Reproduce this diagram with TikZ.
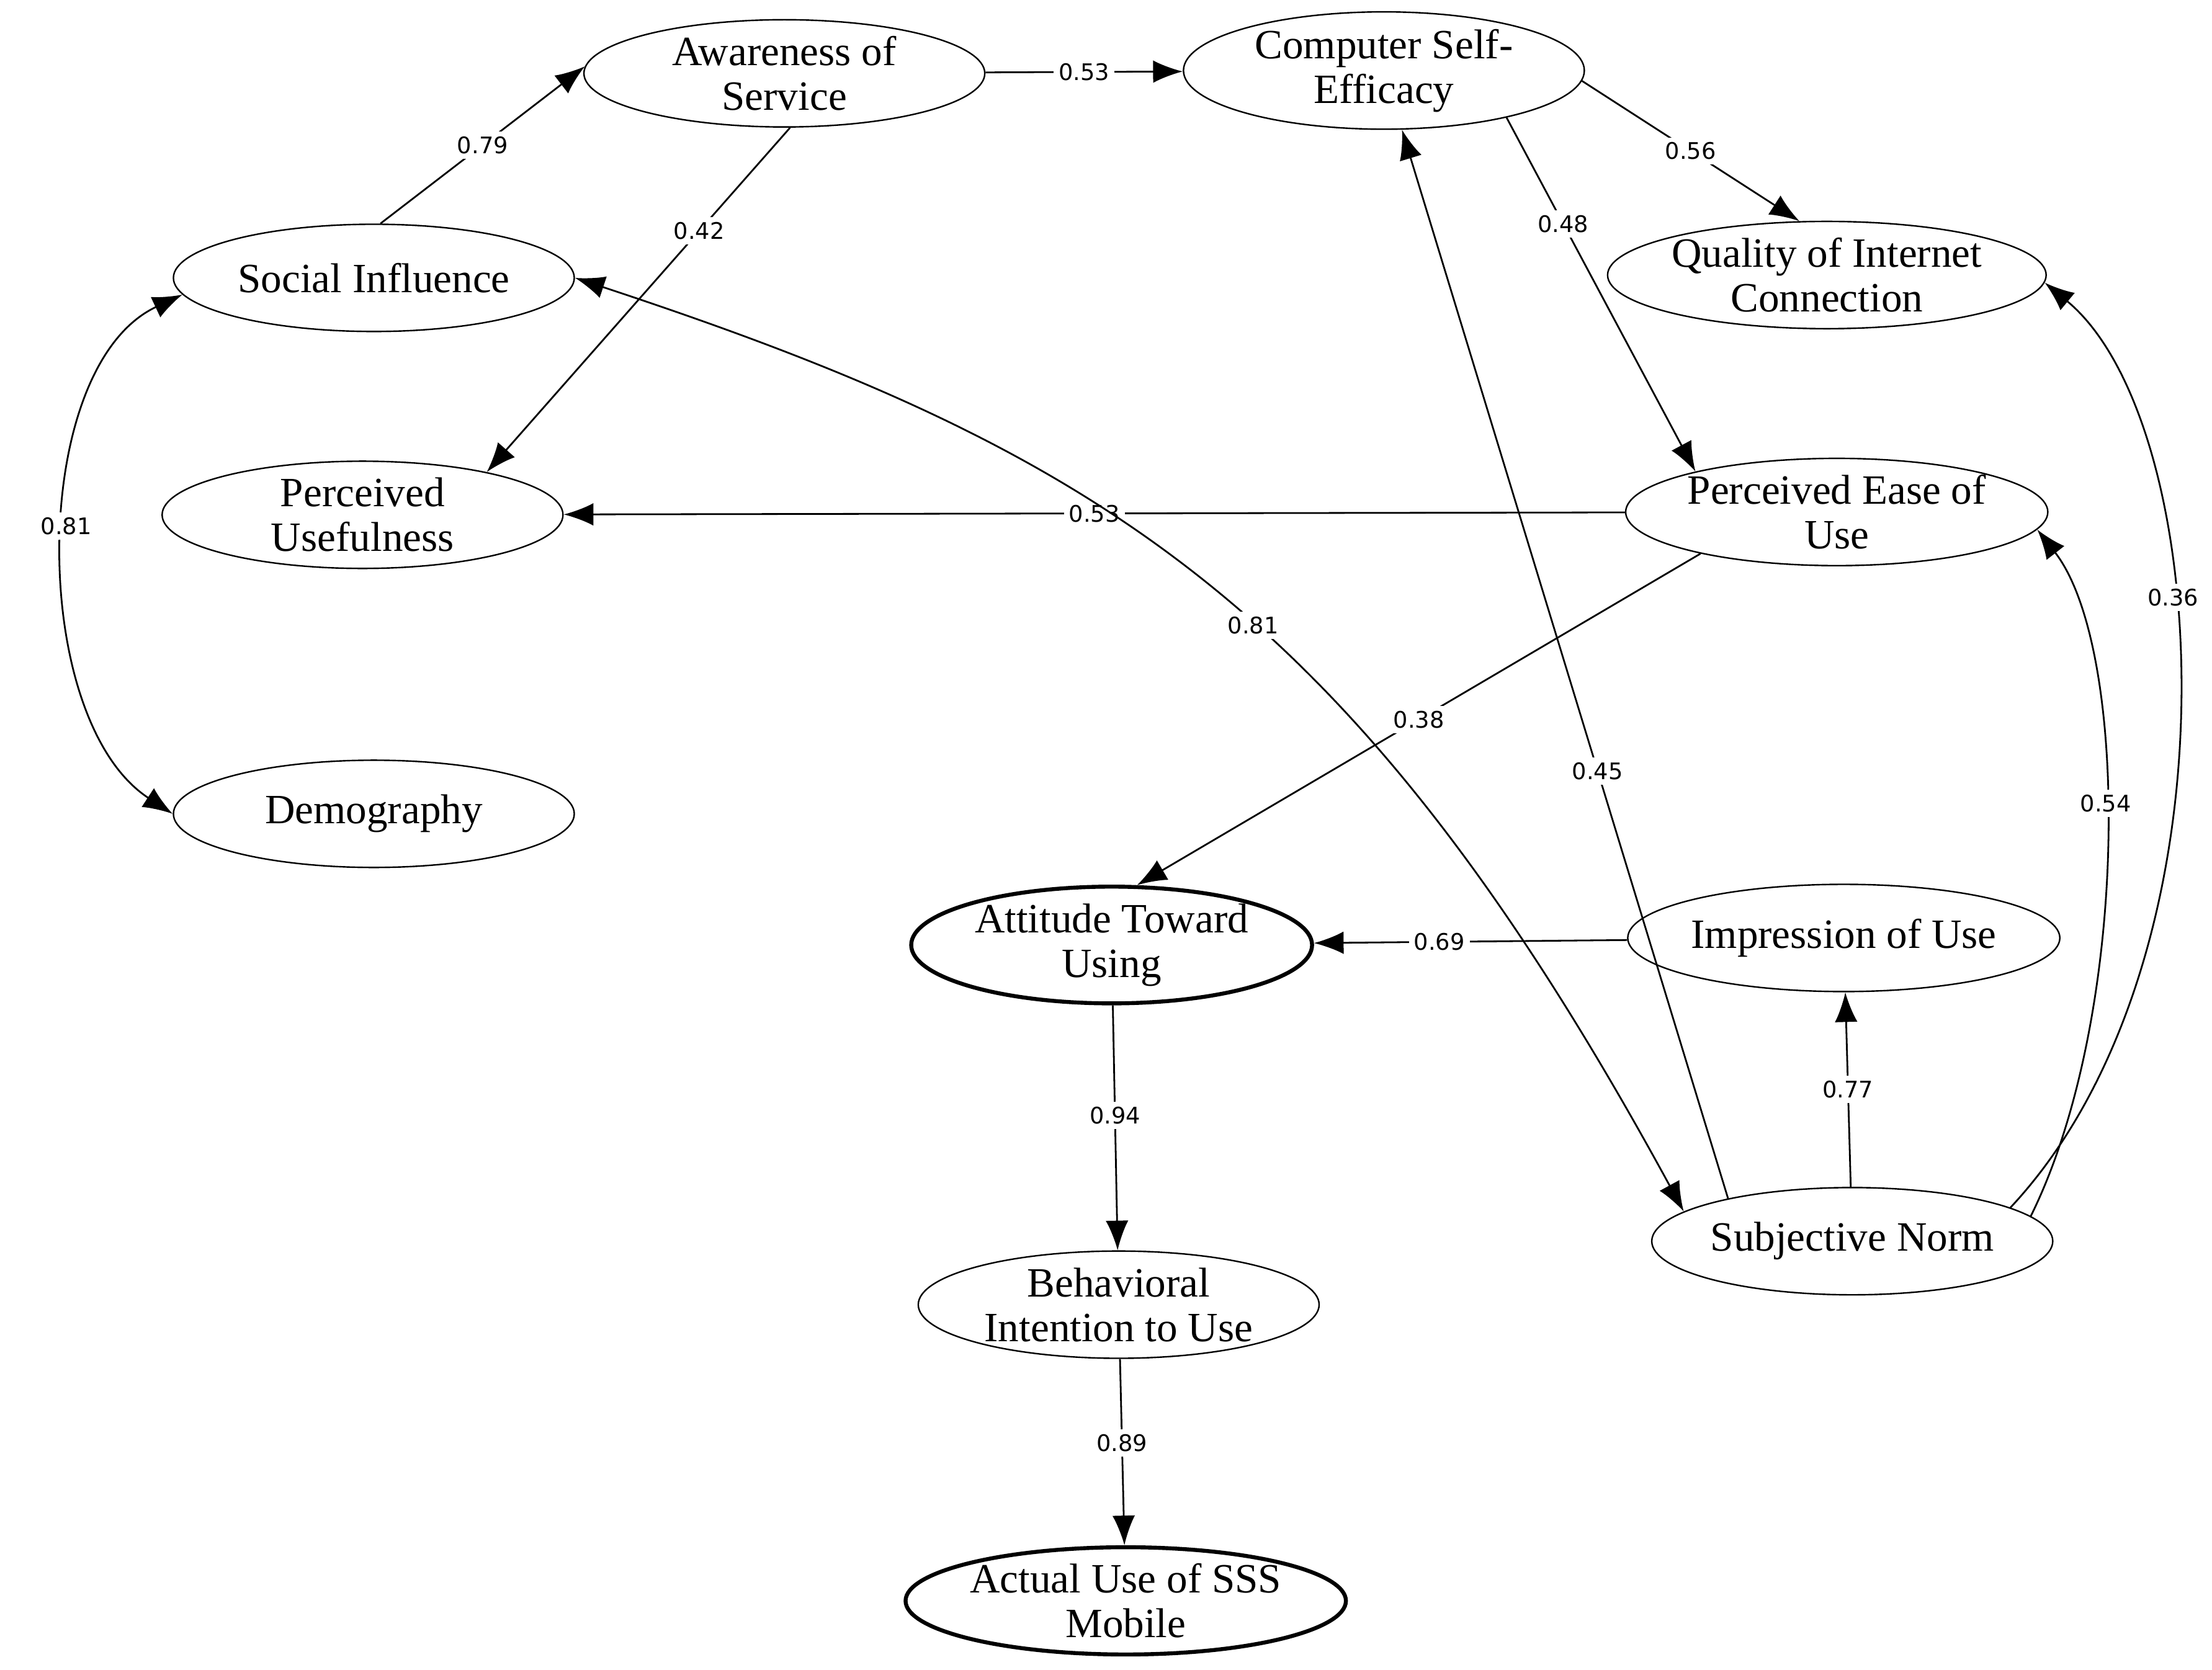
\documentclass[tikz,border=0pt]{standalone}
\usepackage{fontspec}
\setmainfont{Liberation Serif}
\newfontfamily\lblfont{DejaVu Sans}
\usetikzlibrary{shapes.geometric}
\usetikzlibrary{arrows.meta}
\begin{document}
\begin{tikzpicture}[x=0.01cm,y=-0.01cm,
    construct/.style={draw, ellipse, minimum width=2.84cm, minimum height=0.76cm, inner sep=0pt,
        align=center, font=\fontsize{8.4}{9}\selectfont, line width=0.3pt},
    main/.style={construct, line width=0.8pt},
    path/.style={-{Latex[length=2.1mm,width=1.6mm]}, line width=0.35pt},
    both/.style={{Latex[length=2.1mm,width=1.6mm]}-{Latex[length=2.1mm,width=1.6mm]}, line width=0.35pt},
    coef/.style={fill=white, inner sep=1pt, font=\lblfont\fontsize{4.6}{5}\selectfont}]
        \useasboundingbox (0,0) rectangle (1568,1184);

        % Constructs
        \node[construct] (aos) at (556,52) {Awareness of\\Service};
        \node[construct] (cse) at (981,50) {Computer Self-\\Efficacy};
        \node[construct] (si)  at (265,197) {Social Influence};
        \node[construct] (qic) at (1295,195) {Quality of Internet\\Connection};
        \node[construct] (pu)  at (257,365) {Perceived\\Usefulness};
        \node[construct] (peu) at (1302,363) {Perceived Ease of\\Use};
        \node[construct] (dem) at (265,577) {Demography};
        \node[main]      (atu) at (788,670) {Attitude Toward\\Using};
        \node[construct] (iou) at (1307,665) {Impression of Use};
        \node[construct] (sn)  at (1313,880) {Subjective Norm};
        \node[construct] (bi)  at (793,925) {Behavioral\\Intention to Use};
        \node[main]      (au)  at (798,1135) {Actual Use of SSS\\Mobile};

        % Paths
        \draw[path] (si.83) -- node[coef] {0.79} (aos.178);
        \draw[path] (aos) -- node[coef] {0.53} (cse);
        \draw[path] (aos.276) -- node[coef, pos=0.3] {0.42} (pu.19);
        \draw[path] (cse.-3) -- node[coef] {0.56} (qic.117);
        \draw[path] (cse.339) -- node[coef, pos=0.3] {0.48} (peu.164);
        \draw[path] (peu) -- node[coef] {0.53} (pu);
        \draw[path] (peu.197) -- node[coef] {0.38} (atu.67);
        \draw[path] (iou) -- node[coef, pos=0.6] {0.69} (atu);
        \draw[path] (sn) -- node[coef] {0.77} (iou);
        \draw[path] (atu) -- node[coef, pos=0.45] {0.94} (bi);
        \draw[path] (bi) -- node[coef, pos=0.45] {0.89} (au);
        \draw[path] (sn.161) -- node[coef, pos=0.4] {0.45} (cse.287);

        % Curved paths
        \draw[both] (si.185) .. controls (20,260) and (20,510) .. node[coef, pos=0.47] {0.81} (dem.180);
        \draw[both] (si.0) .. controls (780,320) and (960,430) .. node[coef, pos=0.55] {0.81} (sn.170);
        \draw[path] (sn.8) .. controls (1510,720) and (1510,460) .. node[coef, pos=0.55] {0.54} (peu.355);
        \draw[path] (sn.12) .. controls (1590,680) and (1570,300) .. node[coef, pos=0.6] {0.36} (qic.-2);
    \end{tikzpicture}
\end{document}
